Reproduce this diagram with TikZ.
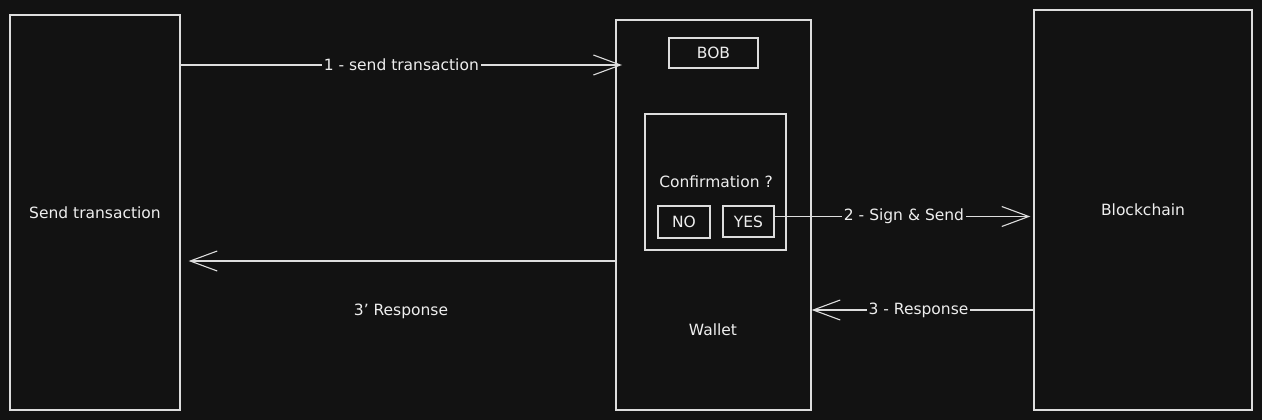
\documentclass[tikz,border=0pt]{standalone}
\usepackage{fontspec}
\setmainfont{DejaVu Sans}[Ligatures=ResetAll]
\usetikzlibrary{arrows.meta,calc}
\definecolor{bg}{HTML}{121212}
\definecolor{ink}{HTML}{DDDDDD}
\definecolor{txt}{HTML}{EEEEEE}
\begin{document}
\begin{tikzpicture}[x=1pt,y=-1pt,
  box/.style={draw=ink,line width=1.3pt,rectangle,inner sep=0pt,text=txt,font=\fontsize{15.5}{18}\selectfont},
  lbl/.style={text=txt,font=\fontsize{15.5}{18}\selectfont,inner sep=1pt},
  onlbl/.style={lbl,fill=bg,inner sep=2pt},
  conn/.style={draw=ink,line width=1.3pt,-{Straight Barb[length=27pt,width=20pt,line width=1.1pt]}}
]
\fill[bg] (0,0) rectangle (1262,420);
\useasboundingbox (0,0) rectangle (1262,420);

\node[box,minimum width=170pt,minimum height=395pt] (L) at (95,212.5) {Send transaction};
\node[box,minimum width=195pt,minimum height=390pt] (W) at (713.5,215) {};
\node[lbl] (WL) at (713,330) {Wallet};
\node[box,minimum width=89pt,minimum height=30pt] (BOB) at (713.5,53) {BOB};
\node[box,minimum width=141pt,minimum height=136pt] (C) at (715.5,182) {};
\node[lbl] (CQ) at (716,182) {Confirmation ?};
\node[box,minimum width=52pt,minimum height=32pt] (NO) at (684,222) {NO};
\node[box,minimum width=51pt,minimum height=31pt] (YES) at (748.5,221.5) {YES};
\node[box,minimum width=218pt,minimum height=400pt] (B) at (1143,210) {Blockchain};

\coordinate (a1) at (622,65);
\draw[conn] (L.east |- a1) -- node[onlbl] {1 - send transaction} (a1);

\coordinate (a2s) at ([yshift=5pt]YES.east);
\draw[conn,shorten >=3pt] (a2s) -- node[onlbl] {2 - Sign \& Send} (a2s -| B.west);

\coordinate (a3) at (1032,310);
\draw[conn] (B.west |- a3) -- node[onlbl,xshift=-4pt] {3 - Response} (a3 -| W.east);

\coordinate (a4) at (614,261);
\draw[conn,shorten >=8pt] (W.west |- a4) -- (a4 -| L.east);
\node[lbl] (R4) at (401,311) {3' Response};
\end{tikzpicture}
\end{document}
